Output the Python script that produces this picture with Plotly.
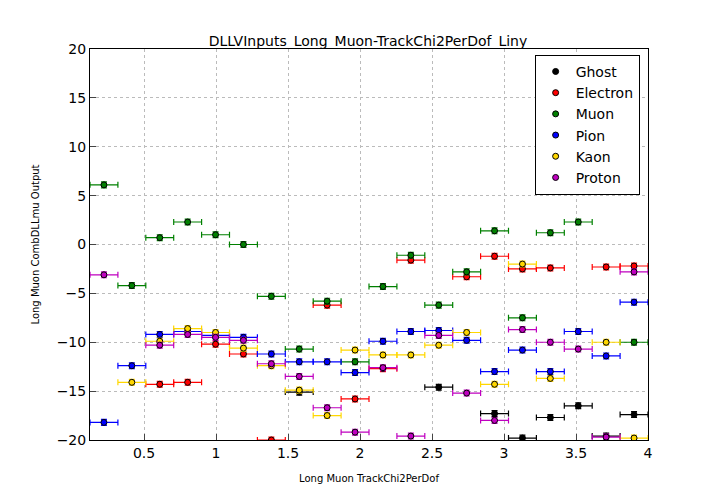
import numpy as np
import plotly.graph_objects as go

edges = np.linspace(0.125, 4.0, 21)
centers = (edges[:-1] + edges[1:]) / 2
half = (edges[1] - edges[0]) / 2

N = None
ghost = [N, N, N, N, N, N, N, -15.1, N, N, N, N, -14.6, N, -17.3, -19.8, -17.7, -16.5, -19.6, -17.4]
electron = [N, N, -14.3, -14.1, -10.2, -11.2, -20.0, N, -6.2, -15.8, -12.7, -1.6, N, -3.3, -1.2, -2.5, -2.4, N, -2.3, -2.2]
muon = [6.1, -4.2, 0.7, 2.3, 1.0, 0.0, -5.3, -10.7, -5.8, -12.0, -4.3, -1.1, -6.2, -2.8, 1.4, -7.5, 1.2, 2.3, N, -10.0]
pion = [-18.2, -12.4, -9.2, -8.9, -9.3, -9.5, -11.2, -12.0, -12.0, -13.1, -9.9, -8.9, -8.8, -9.8, -13.0, -10.8, -13.0, -8.9, -11.4, -5.9]
kaon = [N, -14.1, -9.9, -8.6, -9.0, -10.6, -12.4, -14.9, -17.5, -10.8, -11.3, -11.3, -10.3, -9.0, -14.3, -2.0, -13.7, N, -10.0, -19.8]
proton = [-3.1, N, -10.3, -9.2, -9.5, -9.8, -12.2, -13.5, -16.7, -19.2, -12.6, -19.6, -9.3, -15.2, -18.0, -8.7, -10.0, -10.7, -19.7, -2.8]

series = [("Ghost", ghost, "black"), ("Electron", electron, "red"), ("Muon", muon, "green"),
          ("Pion", pion, "blue"), ("Kaon", kaon, "gold"), ("Proton", proton, "#c000c0")]

fig = go.Figure()
for name, vals, col in series:
    fig.add_trace(go.Scatter(
        x=centers, y=vals, mode="markers", name=name,
        marker=dict(color=col, size=6, line=dict(color="black", width=1)),
        error_x=dict(type="constant", value=half, color=col, thickness=1.2, width=3),
        error_y=dict(type="constant", value=0.3, color=col, thickness=1.2, width=3),
    ))

fig.update_layout(
    width=720, height=504, paper_bgcolor="white", plot_bgcolor="white",
    margin=dict(l=82, r=80, t=41, b=72),
    title=dict(text="DLLVInputs_Long_Muon-TrackChi2PerDof_Liny", x=0.5, y=0.945,
               font=dict(family="DejaVu Sans", size=14, color="black")),
    font=dict(family="DejaVu Sans", color="black"),
    legend=dict(x=0.985, y=0.985, xanchor="right", yanchor="top", bordercolor="black",
                borderwidth=1, font=dict(size=14), bgcolor="white"),
)
ax = dict(showline=True, linecolor="black", mirror=True, ticks="inside", ticklen=6,
          showgrid=True, gridcolor="#bbbbbb", griddash="dot", zeroline=False,
          tickfont=dict(size=14), automargin=False)
fig.update_xaxes(range=[0.125, 4.0], dtick=0.5, title=dict(text="Long Muon TrackChi2PerDof", font=dict(size=10)), **ax)
fig.update_yaxes(range=[-20, 20], dtick=5, title=dict(text="Long Muon CombDLLmu Output", font=dict(size=10)), **ax)
fig.write_html("out.html")
